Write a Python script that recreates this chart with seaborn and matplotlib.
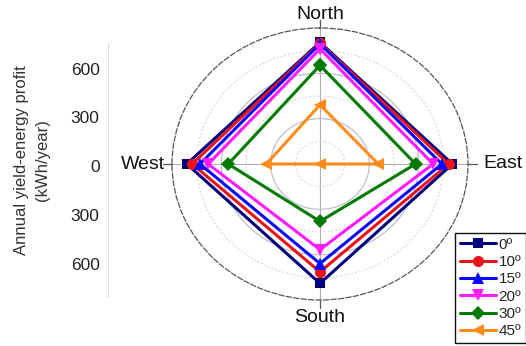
import numpy as np
import pandas as pd
import matplotlib
matplotlib.use("Agg")
import matplotlib.pyplot as plt
from matplotlib.lines import Line2D
import seaborn as sns

sns.set_theme(style="white")
plt.rcParams["font.family"] = ["Liberation Sans", "DejaVu Sans"]

# Orientation of each panel, in plotting order around the rose
directions = ["North", "East", "South", "West"]
dir_angles_deg = [0, 90, 180, 270]

# Tilt angles (legend labels)
tilts = ["0º", "10º", "15º", "20º", "30º", "45º"]

# Annual yield-energy profit (kWh/year) per orientation: North, East, South, West
profit_0 = [805, 805, 790, 810]
profit_10 = [800, 782, 714, 777]
profit_15 = [795, 741, 659, 730]
profit_20 = [762, 688, 567, 680]
profit_30 = [653, 581, 380, 558]
profit_45 = [392, 354, 0, 326]

series = [profit_0, profit_10, profit_15, profit_20, profit_30, profit_45]
colors = ["#00007f", "#e8141c", "#0a0aff", "#ff1aff", "#007a00", "#ff8c1a"]
markers = ["s", "o", "^", "v", "D", "<"]
msizes = [7.5, 8, 8, 8, 7, 8]

r_max = 900

fig = plt.figure(figsize=(5.26, 3.46), dpi=100)
fig.patch.set_facecolor("white")

W, H = 526.0, 346.0
ax = fig.add_axes([172 / W, (H - 300) / H, 296 / W, 272 / H], projection="polar")
ax.set_aspect("auto")
ax.set_theta_zero_location("N")
ax.set_theta_direction(-1)
ax.set_rlim(0, r_max)
ax.set_facecolor("white")

# radial grid: solid at 300/600, dotted between
ax.set_rgrids([150, 300, 450, 600, 750], labels=[""] * 5)
for val, gl in zip([150, 300, 450, 600, 750], ax.yaxis.get_gridlines()):
    if val in (300, 600):
        gl.set(color="#b8b8c8", linestyle="-", linewidth=0.8)
    else:
        gl.set(color="#d0d0d0", linestyle=(0, (2, 2)), linewidth=0.7)
ax.set_thetagrids(dir_angles_deg, labels=[""] * 4)
for gl in ax.xaxis.get_gridlines():
    gl.set(color="#b0b0b0", linestyle="-", linewidth=0.8)
ax.spines["polar"].set(color="#555555", linestyle=(0, (4, 2)), linewidth=0.9)
ax.tick_params(axis="both", length=0, pad=0)

theta = np.deg2rad(dir_angles_deg + [360])
for vals, col, mk, ms, lab in zip(series, colors, markers, msizes, tilts):
    df = pd.DataFrame({"theta": theta, "r": vals + [vals[0]]})
    sns.lineplot(data=df, x="theta", y="r", ax=ax, sort=False, estimator=None,
                 color=col, linewidth=2.2, marker=mk, markersize=ms,
                 markeredgewidth=0, legend=False)
ax.set_xlabel("")
ax.set_ylabel("")
ax.set_rlim(0, r_max)

# outer tick marks on the four main directions
for a in dir_angles_deg:
    t = np.deg2rad(a)
    ax.plot([t, t], [r_max, r_max + 55], color="#555555", lw=0.9, clip_on=False)

# direction labels
ax.text(0, 990, "North", ha="center", va="center", fontsize=14, color="#111111", clip_on=False)
ax.text(np.pi, 1015, "South", ha="center", va="center", fontsize=14, color="#111111", clip_on=False)
ax.text(np.pi / 2, 995, "East", ha="left", va="center", fontsize=14, color="#111111", clip_on=False)
ax.text(3 * np.pi / 2, 940, "West", ha="right", va="center", fontsize=14, color="#111111", clip_on=False)

# left value axis
lax = fig.add_axes([108 / W, (H - 297) / H, 0.0005, 254 / H])
lax.set_facecolor("none")
lax.set_ylim(-806, 757)
lax.set_xticks([])
for s in ["top", "right", "bottom"]:
    lax.spines[s].set_visible(False)
lax.spines["left"].set(color="#dddddd", linewidth=0.8)
lax.set_yticks([-600, -300, 0, 300, 600])
lax.set_yticklabels(["600", "300", "0", "300", "600"])
lax.set_yticks([-750, -450, -150, 150, 450, 750], minor=True)
lax.tick_params(axis="y", which="major", direction="out", length=4, width=0.8,
                color="#888888", labelsize=12.5, labelcolor="#222222", pad=2)
lax.tick_params(axis="y", which="minor", direction="out", length=2, width=0.8,
                color="#aaaaaa")

fig.text(32 / W, 1 - 160 / H, "Annual yield-energy profit\n(kWh/year)",
         rotation=90, ha="center", va="center", multialignment="center",
         fontsize=12, color="#333333", linespacing=1.45)

handles = [Line2D([0], [0], color=c, marker=m, markersize=ms, lw=2.2,
                  markeredgewidth=0)
           for c, m, ms in zip(colors, markers, msizes)]
leg = fig.legend(handles, tilts, loc="lower left", bbox_to_anchor=(455 / W, 3 / H),
                 frameon=True, fancybox=False, edgecolor="#111111", framealpha=1,
                 fontsize=11, handlelength=2.4, handletextpad=0.15,
                 labelspacing=0.22, borderpad=0.3, borderaxespad=0)
leg.get_frame().set_linewidth(1.0)

fig.savefig("out.png", dpi=100, facecolor="white")
